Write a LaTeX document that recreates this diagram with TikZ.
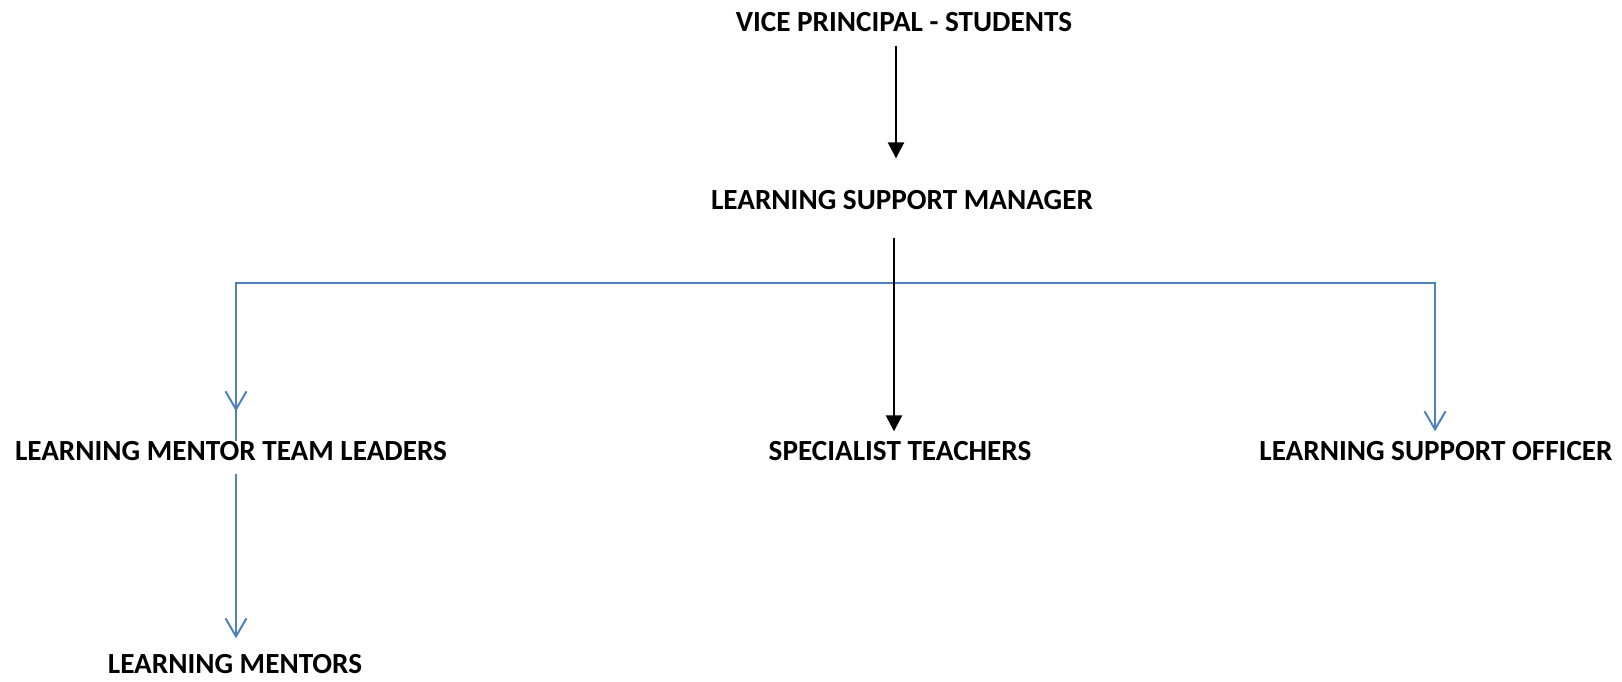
\documentclass[tikz,border=0pt]{standalone}
\usepackage{fontspec}
\setmainfont{Carlito}
\usetikzlibrary{arrows.meta}
\definecolor{offblue}{HTML}{4F81BD}
\tikzset{
  lbl/.style={inner sep=0pt, font=\fontsize{14.6}{17}\selectfont\bfseries, text=black},
  blk/.style={draw=black, line width=1.3pt, -{Triangle[width=8pt,length=8pt]}},
  blu/.style={draw=offblue, line width=1pt, -{Straight Barb[width=10.5pt,length=9pt,line width=1pt]}},
  bluline/.style={draw=offblue, line width=1pt}
}
\begin{document}
\begin{tikzpicture}[x=0.5pt,y=-0.5pt]
\useasboundingbox (0,0) rectangle (1622,681);
\node[lbl] (vp) at (904,22) {VICE PRINCIPAL - STUDENTS};
\node[lbl] (lsm) at (902,200) {LEARNING SUPPORT MANAGER};
\node[lbl] (lmtl) at (231,451) {LEARNING MENTOR TEAM LEADERS};
\node[lbl] (st) at (900,451) {SPECIALIST TEACHERS};
\node[lbl] (lso) at (1436,451) {LEARNING SUPPORT OFFICER};
\node[lbl] (lm) at (235,664) {LEARNING MENTORS};
\coordinate (bar) at (894,283);
\draw[bluline] (bar) -| ([xshift=2.5pt]lmtl.north);
\draw[blu] ([xshift=2.5pt]lmtl.north |- bar) -- ([xshift=2.5pt,yshift=14.8pt]lmtl.north);
\draw[blu] (bar) -| ([xshift=-0.5pt,yshift=4.8pt]lso.north);
\draw[blk] ([xshift=-4pt,yshift=-6.8pt]vp.south) -- ([xshift=-3pt,yshift=15.8pt]lsm.north);
\draw[blk] ([xshift=-4pt,yshift=-13.8pt]lsm.south) -- ([xshift=-3pt,yshift=4.8pt]st.north);
\draw[blu] ([xshift=2.5pt,yshift=-6.3pt]lmtl.south) -- ([xshift=0.5pt,yshift=7.8pt]lm.north);
\end{tikzpicture}
\end{document}
